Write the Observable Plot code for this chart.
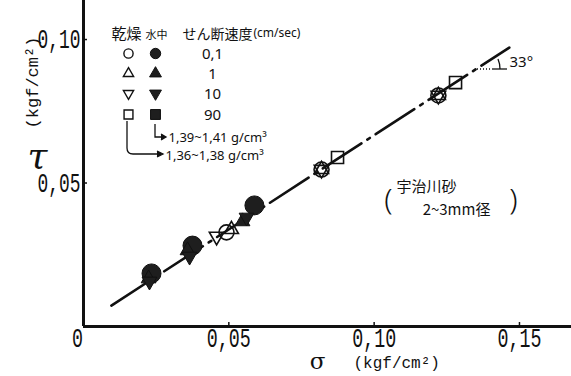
<!DOCTYPE html>
<html><head><meta charset="utf-8">
<script src="https://cdn.jsdelivr.net/npm/d3@7"></script>
<script src="https://cdn.jsdelivr.net/npm/@observablehq/plot@0.6"></script>
<style>body{margin:0;background:#fff}#chart{width:571px;height:376px}</style>
</head><body><div id="chart"></div>
<script>
// ---- data (σ, τ in kgf/cm2) ----
const speeds = [0.1, 1, 10, 90];
const speedLabels = ["0,1", "1", "10", "90"];
// dry (乾燥) samples
const drySigma = [0.0492, 0.0819, 0.1221, 0.0509, 0.0819, 0.1221, 0.0458, 0.0819, 0.1221, 0.0874, 0.1280];
const dryTau   = [0.0328, 0.0547, 0.0805, 0.0338, 0.0547, 0.0805, 0.0314, 0.0547, 0.0805, 0.0589, 0.0850];
const drySpeed = [0.1, 0.1, 0.1, 1, 1, 1, 10, 10, 10, 90, 90];
// submerged (水中) samples
const wetSigma = [0.0234, 0.0375, 0.0588, 0.0224, 0.0358, 0.0547, 0.0227, 0.0365, 0.0561];
const wetTau   = [0.0185, 0.0282, 0.0422, 0.0167, 0.0265, 0.0366, 0.0157, 0.0244, 0.0380];
const wetSpeed = [0.1, 0.1, 0.1, 1, 1, 1, 10, 10, 10];
// failure envelope (φ = 33°)
const lineSigma = [0.0096, 0.1465];
const lineTau   = [0.0073, 0.0972];
// ticks
const xTicks = [0.05, 0.10, 0.15];
const xTickLabels = ["0,05", "0,10", "0,15"];
const yTicks = [0.05, 0.10];
const yTickLabels = ["0,05", "0,10"];

const dry = drySigma.map((s, i) => ({sigma: s, tau: dryTau[i], speed: drySpeed[i]}));
const wet = wetSigma.map((s, i) => ({sigma: s, tau: wetTau[i], speed: wetSpeed[i]}));
const line = lineSigma.map((s, i) => ({sigma: s, tau: lineTau[i]}));

const sqrt3 = Math.sqrt(3);
const triangleDown = {draw(ctx, size) {
  const y = -Math.sqrt(size / (sqrt3 * 3));
  ctx.moveTo(0, -y * 2); ctx.lineTo(-sqrt3 * y, y); ctx.lineTo(sqrt3 * y, y); ctx.closePath();
}};
const symbolOf = {0.1: "circle", 1: "triangle", 10: triangleDown, 90: "square"};
const rDry = {0.1: 7.5, 1: 5.2, 10: 5.4, 90: 6.8};
const rWet = {0.1: 9.5, 1: 5.5, 10: 5.5, 90: 6.8};
const rLeg = {0.1: 4.6, 1: 3.8, 10: 3.8, 90: 5};
const ink = "#111";
const wetFill = "#1e1e1e";
const mono = "Liberation Mono, DejaVu Sans Mono, monospace";
const jp = "Noto Sans CJK JP, sans-serif";
const sans = "Noto Sans, sans-serif";

const marks = [];
marks.push(Plot.line(line, {x: "sigma", y: "tau", stroke: ink, strokeWidth: 2.6, strokeDasharray: "46,7,3,7"}));
for (const s of speeds) {
  marks.push(Plot.dot(wet.filter(d => d.speed === s), {x: "sigma", y: "tau", symbol: symbolOf[s], r: rWet[s], fill: wetFill, stroke: ink, strokeWidth: 1}));
}
for (const s of speeds) {
  marks.push(Plot.dot(dry.filter(d => d.speed === s), {x: "sigma", y: "tau", symbol: symbolOf[s], r: rDry[s], fill: "none", stroke: ink, strokeWidth: 1.6}));
}
// axes lines
marks.push(Plot.ruleY([0], {stroke: ink, strokeWidth: 3}));
marks.push(Plot.ruleX([0], {stroke: ink, strokeWidth: 3}));
marks.push(Plot.axisX({ticks: xTicks, tickFormat: d => xTickLabels[xTicks.indexOf(d)], tickSize: -4, tickPadding: 5, fontSize: 27, fontFamily: mono, label: null, stroke: ink, strokeWidth: 1.5, color: ink}));
marks.push(Plot.axisY({ticks: yTicks, tickFormat: d => yTickLabels[yTicks.indexOf(d)], tickSize: -4, tickPadding: 7, fontSize: 28, fontFamily: mono, label: null, stroke: ink, strokeWidth: 1.5, color: ink}));

// text helper (layout offsets relative to frame top-left)
const L = (text, dx, dy, o = {}) => Plot.text([text], {text: d => d, frameAnchor: "top-left", dx, dy, fill: ink, textAnchor: "middle", lineAnchor: "middle", ...o});
marks.push(L("乾燥", 43, 34, {fontSize: 15, fontFamily: jp}));
marks.push(L("水中", 73, 35, {fontSize: 11, fontFamily: jp}));
marks.push(L("せん断速度", 99, 34, {fontSize: 14, fontFamily: jp, textAnchor: "start"}));
marks.push(L("(cm/sec)", 170, 33, {fontSize: 12, fontFamily: sans, textAnchor: "start"}));
const rowY = [53, 73, 93, 114];
speeds.forEach((s, i) => {
  marks.push(Plot.dot([s], {frameAnchor: "top-left", dx: 45, dy: rowY[i], symbol: symbolOf[s], r: rLeg[s], fill: "none", stroke: ink, strokeWidth: 1.4}));
  marks.push(Plot.dot([s], {frameAnchor: "top-left", dx: 72, dy: rowY[i], symbol: symbolOf[s], r: rLeg[s] + 0.6, fill: wetFill, stroke: ink, strokeWidth: 1}));
  marks.push(L(speedLabels[i], 129, rowY[i] + 1, {fontSize: 15, fontFamily: sans}));
});
marks.push(L("1,39~1,41 g/cm³", 85, 137, {fontSize: 13, fontFamily: sans, textAnchor: "start"}));
marks.push(L("1,36~1,38 g/cm³", 82, 155, {fontSize: 13, fontFamily: sans, textAnchor: "start"}));
// sample annotation
marks.push(L("宇治川砂", 343, 187, {fontSize: 15, fontFamily: jp}));
marks.push(L("2~3mm径", 373, 210, {fontSize: 15, fontFamily: jp}));
marks.push(L("(", 305, 200, {fontSize: 30, fontFamily: sans, fontWeight: 300}));
marks.push(L(")", 430, 200, {fontSize: 30, fontFamily: sans, fontWeight: 300}));
marks.push(L("33°", 426, 62, {fontSize: 15, fontFamily: sans, textAnchor: "start"}));
// axis titles
marks.push(L("σ", 234, 361, {fontSize: 23, fontFamily: "DejaVu Serif, serif"}));
marks.push(L("(kgf/cm²)", 270, 362, {fontSize: 16, fontFamily: mono, textAnchor: "start"}));
marks.push(L("(kgf/cm²)", -51, 82, {fontSize: 17, fontFamily: mono, rotate: -90}));
marks.push(L("τ", -46, 156, {fontSize: 36, fontFamily: "DejaVu Serif, serif", fontStyle: "italic"}));
marks.push(L("0", -6, 338, {fontSize: 28, fontFamily: mono}));

const plot = Plot.plot({
  width: 571, height: 376,
  marginLeft: 83, marginRight: 0, marginTop: 0, marginBottom: 50,
  x: {domain: [0, 0.1679], axis: null},
  y: {domain: [0, 0.1136], axis: null},
  style: {background: "#fff", color: ink, overflow: "visible"},
  marks
});
document.getElementById("chart").appendChild(plot);

// condensed typewriter tick labels
const svg = d3.select(plot);
svg.selectAll('g[aria-label="x-axis tick label"] text').attr("textLength", 44).attr("lengthAdjust", "spacingAndGlyphs");
svg.selectAll('g[aria-label="y-axis tick label"] text').attr("textLength", 43).attr("lengthAdjust", "spacingAndGlyphs");
svg.selectAll("text").filter(function() { return this.textContent === "0"; }).attr("textLength", 11).attr("lengthAdjust", "spacingAndGlyphs");

// annotation strokes (legend arrows, angle mark)
const g = svg.append("g").attr("fill", "none").attr("stroke", ink).attr("stroke-width", 1.3);
g.append("path").attr("d", "M155,124V137H165");
g.append("path").attr("d", "M161,134L166,137L161,140").attr("fill", ink);
g.append("path").attr("d", "M127,121V148Q127,154 133,154H160");
g.append("path").attr("d", "M157,151L163,154L157,157").attr("fill", ink);
g.append("path").attr("d", "M477,69H492").attr("stroke-dasharray", "1,2");
g.append("path").attr("d", "M492,69H507");
g.append("path").attr("d", "M500,69A25,25 0 0 0 498,59");
</script></body></html>
